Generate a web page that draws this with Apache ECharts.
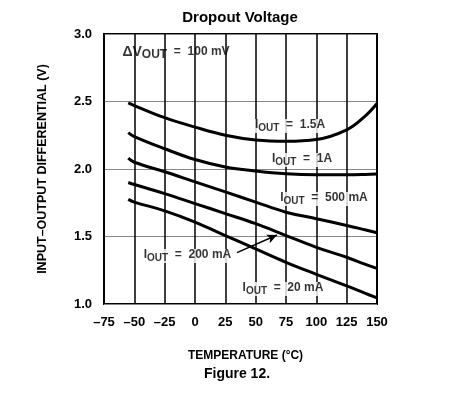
<!DOCTYPE html>
<html>
<head>
<meta charset="utf-8">
<script src="https://cdn.jsdelivr.net/npm/echarts@6/dist/echarts.min.js"></script>
<style>
  html, body { margin: 0; padding: 0; background: #fff; }
  #chart { width: 453px; height: 397px; }
</style>
</head>
<body>
<div id="chart"></div>
<script>
// temperatures (°C) where the curves were read
const temps = [-55, -50, -25, 0, 25, 50, 75, 100, 125, 140, 150];

// input-output differential (V) per load current
const i1500 = [2.49, 2.47, 2.38, 2.31, 2.25, 2.215, 2.205, 2.218, 2.29, 2.39, 2.485];
const i1000 = [2.27, 2.24, 2.15, 2.07, 2.015, 1.985, 1.965, 1.958, 1.958, 1.96, 1.963];
const i500 = [2.08, 2.05, 1.98, 1.905, 1.83, 1.755, 1.68, 1.632, 1.582, 1.55, 1.528];
const i200 = [1.90, 1.885, 1.818, 1.744, 1.67, 1.595, 1.507, 1.42, 1.346, 1.295, 1.264];
const i20 = [1.775, 1.755, 1.69, 1.607, 1.507, 1.408, 1.309, 1.22, 1.134, 1.08, 1.045];

// curve labels: [temp, volts, current text]
const notes = [
  [78.3, 2.318, '1.5A'],
  [88.2, 2.067, '1A'],
  [106.3, 1.778, '500 mA'],
  [-6.2, 1.356, '200 mA'],
  [72.5, 1.111, '20 mA']
];
const arrowFrom = [34.6, 1.381];
const arrowTo = [67.6, 1.511];

const FONT = 'Liberation Sans';

function curve(name, vals) {
  return {
    name: name,
    type: 'line',
    data: temps.map((t, i) => [t, vals[i]]),
    showSymbol: false,
    smooth: 0.4,
    lineStyle: { color: '#000', width: 3 },
    silent: true,
    z: 3
  };
}

let chartConfig = {
  animation: false,
  title: [
    {
      text: 'Dropout Voltage',
      left: 235,
      top: 5,
      textAlign: 'center',
      textStyle: { fontFamily: FONT, fontSize: 15, fontWeight: 'bold', color: '#000' }
    },
    {
      text: 'Figure 12.',
      left: 232,
      top: 362,
      textAlign: 'center',
      textStyle: { fontFamily: FONT, fontSize: 14, fontWeight: 'bold', color: '#000' }
    }
  ],
  grid: {
    left: 104,
    top: 34,
    width: 273,
    height: 270,
    show: true,
    borderColor: '#000',
    borderWidth: 2
  },
  xAxis: {
    type: 'value',
    min: -75,
    max: 150,
    interval: 25,
    name: 'TEMPERATURE (°C)',
    nameLocation: 'middle',
    nameGap: 46,
    nameTextStyle: { fontFamily: FONT, fontSize: 12, fontWeight: 'bold', color: '#000', padding: [0, 0, 0, 10] },
    axisLine: { show: false },
    axisTick: { show: false },
    axisLabel: {
      margin: 12,
      fontFamily: FONT,
      fontSize: 13,
      fontWeight: 'bold',
      color: '#000',
      formatter: v => String(v).replace('-', '–')
    },
    splitLine: { show: true, lineStyle: { color: '#000', width: 1.5 } }
  },
  yAxis: {
    type: 'value',
    min: 1,
    max: 3,
    interval: 0.5,
    name: 'INPUT–OUTPUT DIFFERENTIAL (V)',
    nameLocation: 'middle',
    nameGap: 55,
    nameTextStyle: { fontFamily: FONT, fontSize: 12.5, fontWeight: 'bold', color: '#000' },
    axisLine: { show: false },
    axisTick: { show: false },
    axisLabel: {
      margin: 12,
      fontFamily: FONT,
      fontSize: 13,
      fontWeight: 'bold',
      color: '#000',
      formatter: v => v.toFixed(1)
    },
    splitLine: { show: true, lineStyle: { color: '#888', width: 1 } }
  },
  series: [
    curve('1.5A', i1500),
    curve('1A', i1000),
    curve('500 mA', i500),
    curve('200 mA', i200),
    curve('20 mA', i20),
    {
      type: 'scatter',
      silent: true,
      symbolSize: 1,
      itemStyle: { color: 'transparent' },
      z: 4,
      data: notes.map(n => ({ value: [n[0], n[1]], note: n[2] })),
      label: {
        show: true,
        position: 'inside',
        backgroundColor: '#fff',
        padding: [0, 2],
        formatter: p => '{i|I}{sub|OUT}{t|  =  ' + p.data.note + '}',
        rich: {
          i: { fontFamily: FONT, fontSize: 12, fontWeight: 'bold', color: '#000', lineHeight: 14, verticalAlign: 'top' },
          sub: { fontFamily: FONT, fontSize: 10, fontWeight: 'bold', color: '#000', lineHeight: 14, verticalAlign: 'bottom', padding: [6, 0, 0, 0] },
          t: { fontFamily: FONT, fontSize: 12, fontWeight: 'bold', color: '#000', lineHeight: 14, verticalAlign: 'top' }
        }
      },
      markLine: {
        silent: true,
        symbol: ['none', 'arrow'],
        symbolSize: [7, 10],
        lineStyle: { color: '#000', width: 1.5, type: 'solid' },
        label: { show: false },
        data: [[{ coord: arrowFrom }, { coord: arrowTo }]]
      }
    },
    {
      type: 'scatter',
      silent: true,
      symbolSize: 1,
      itemStyle: { color: 'transparent' },
      z: 4,
      data: [[-60.2, 2.859]],
      label: {
        show: true,
        position: 'right',
        distance: 0,
        formatter: '{d|ΔV}{sub|OUT}{t|  =  100 mV}',
        rich: {
          d: { fontFamily: FONT, fontSize: 14, fontWeight: 'bold', color: '#000', lineHeight: 15, verticalAlign: 'top' },
          sub: { fontFamily: FONT, fontSize: 12, fontWeight: 'bold', color: '#000', lineHeight: 15, verticalAlign: 'bottom', padding: [5, 0, 0, 0] },
          t: { fontFamily: FONT, fontSize: 12, fontWeight: 'bold', color: '#000', lineHeight: 15, verticalAlign: 'top' }
        }
      }
    }
  ]
};

let chart = echarts.init(document.getElementById('chart'));
chart.setOption(chartConfig);
window.addEventListener('resize', function () {
  chart.resize();
});
</script>
</body>
</html>
